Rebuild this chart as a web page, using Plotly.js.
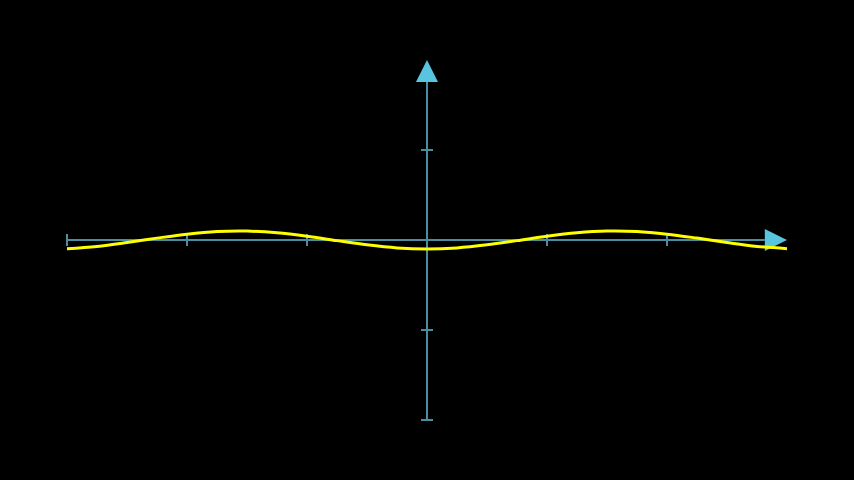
<!DOCTYPE html>
<html>
<head>
<meta charset="utf-8">
<script src="https://cdn.plot.ly/plotly-3.0.1.min.js"></script>
<style>html,body{margin:0;padding:0;background:#000;}#chart{width:854px;height:480px;}</style>
</head>
<body>
<div id="chart"></div>
<script>
// Curve samples
const curveX = [-3, -2.75, -2.5, -2.25, -2, -1.75, -1.5, -1.25, -1, -0.75, -0.5, -0.25, 0,
                0.25, 0.5, 0.75, 1, 1.25, 1.5, 1.75, 2, 2.25, 2.5, 2.75, 3];
const curveY = [-0.096, -0.071, -0.028, 0.021, 0.065, 0.094, 0.099, 0.080, 0.042, -0.007, -0.054, -0.088, -0.100,
                -0.088, -0.054, -0.007, 0.042, 0.080, 0.099, 0.094, 0.065, 0.021, -0.028, -0.071, -0.096];
// Axis ticks
const xTicks = [-3, -2, -1, 1, 2];
const yTicks = [1, -1, -2];
const xAxisRange = [-3, 3];
const yAxisRange = [-2, 2];

const axisColor = '#4A8DA0';
const tipColor = '#58C4DD';
const tipLenX = 0.185, tipHalfX = 0.122;  // x-axis arrow (data units)
const tipLenY = 0.245, tipHalfY = 0.092;  // y-axis arrow (data units)

const shapes = [];
// x axis line
shapes.push({type:'line', xref:'x', yref:'y', x0:xAxisRange[0], y0:0, x1:xAxisRange[1]-tipLenX, y1:0,
  line:{color:axisColor, width:2}, layer:'below'});
// y axis line
shapes.push({type:'line', xref:'x', yref:'y', x0:0, y0:yAxisRange[0], x1:0, y1:yAxisRange[1]-tipLenY,
  line:{color:axisColor, width:2}, layer:'below'});
xTicks.forEach(t => shapes.push({type:'line', xref:'x', yref:'y', x0:t, y0:-0.067, x1:t, y1:0.067,
  line:{color:axisColor, width:2}, layer:'below'}));
yTicks.forEach(t => shapes.push({type:'line', xref:'x', yref:'y', x0:-0.05, y0:t, x1:0.05, y1:t,
  line:{color:axisColor, width:2}, layer:'below'}));
// arrow tips
const xb = xAxisRange[1]-tipLenX;
shapes.push({type:'path', xref:'x', yref:'y',
  path:`M ${xb} ${-tipHalfX} L ${xAxisRange[1]} 0 L ${xb} ${tipHalfX} Z`,
  fillcolor:tipColor, line:{color:tipColor, width:0}, layer:'below'});
const yb = yAxisRange[1]-tipLenY;
shapes.push({type:'path', xref:'x', yref:'y',
  path:`M ${-tipHalfY} ${yb} L 0 ${yAxisRange[1]} L ${tipHalfY} ${yb} Z`,
  fillcolor:tipColor, line:{color:tipColor, width:0}, layer:'below'});

const trace = {x:curveX, y:curveY, type:'scatter', mode:'lines',
  line:{color:'#FFFF00', width:3, shape:'spline'}, hoverinfo:'skip'};

const layout = {
  width:854, height:480,
  margin:{l:0, r:0, t:0, b:0},
  paper_bgcolor:'#000', plot_bgcolor:'#000',
  showlegend:false,
  xaxis:{range:[-427/120, 427/120], visible:false, fixedrange:true},
  yaxis:{range:[-240/90, 240/90], visible:false, fixedrange:true},
  shapes:shapes
};
Plotly.newPlot('chart', [trace], layout, {staticPlot:true, displayModeBar:false});
</script>
</body>
</html>
